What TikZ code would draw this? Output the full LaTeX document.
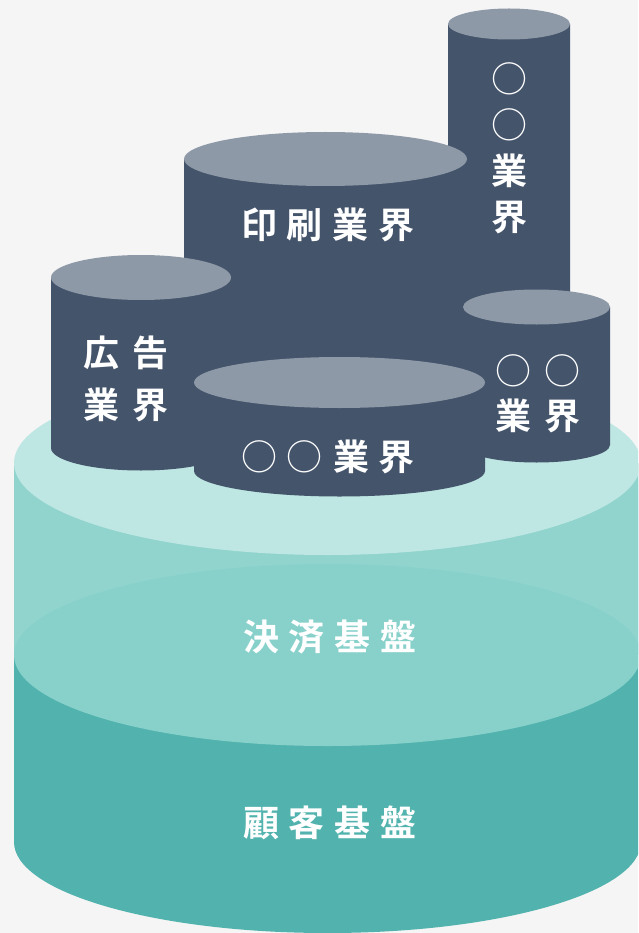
\documentclass[tikz,border=0pt]{standalone}
\usepackage{fontspec}
\newfontfamily\jp{Noto Sans CJK JP}[BoldFont={* Bold}]
\definecolor{bgc}{HTML}{F5F5F5}
\definecolor{tealA}{HTML}{BEE6E3}
\definecolor{tealB}{HTML}{91D4CE}
\definecolor{tealC}{HTML}{88D1CB}
\definecolor{tealD}{HTML}{52B3AE}
\definecolor{slateside}{HTML}{44546B}
\definecolor{slatetop}{HTML}{8E99A8}
\newcommand\drum[5]{% cx, top, bottom, rx, ry
  \fill[slateside] (#1-#4,#2) -- (#1-#4,#3)
    arc[start angle=180,end angle=360,x radius=#4pt,y radius=#5pt]
    -- (#1+#4,#2) -- cycle;
  \fill[slatetop] (#1,#2) ellipse[x radius=#4pt,y radius=#5pt];
}
\newcommand\gp{\kern10pt}
\newcommand\gq{\kern14pt}
\tikzset{lbl/.style={text=white,font=\jp\bfseries\fontsize{36}{46}\selectfont,inner sep=0pt,align=center}}
\begin{document}
\begin{tikzpicture}[x=1pt,y=-1pt]
\useasboundingbox (0,0) rectangle (638,933);
\clip (0,0) rectangle (638,933);
\fill[bgc] (0,0) rectangle (638,933);
% base cylinder
\fill[tealD] (14,463) -- (14,842)
  arc[start angle=180,end angle=360,x radius=313.5pt,y radius=91pt]
  -- (641,463) -- cycle;
\fill[tealB] (14,463) rectangle (641,655);
\fill[tealC] (327.5,655) ellipse[x radius=313.5pt,y radius=91pt];
\fill[tealA] (327.5,463) ellipse[x radius=313.5pt,y radius=92pt];
\node[lbl] (kessai) at (330,637) {決\gp 済\gp 基\gp 盤};
\node[lbl] (kokyaku) at (330,823) {顧\gp 客\gp 基\gp 盤};
% industry drums
\drum{509}{24}{400}{61}{15.5}
\drum{325.5}{159}{400}{141.5}{27}
\drum{536.5}{307}{445}{73.5}{17.5}
\drum{141}{277.5}{448}{90}{22.5}
\drum{339.5}{382.5}{471}{145.5}{25.5}
\node[lbl] (tall) at (509,148) {{\mdseries ○}\\{\mdseries ○}\\業\\界};
\node[lbl] (insatsu) at (328,225) {印\gp 刷\gp 業\gp 界};
\node[lbl,font=\jp\bfseries\fontsize{36}{45}\selectfont] (right) at (538,394) {{\mdseries ○\gq ○}\\業\gq 界};
\node[lbl,font=\jp\bfseries\fontsize{36}{52}\selectfont] (kokoku) at (126,379) {広\gq 告\\業\gq 界};
\node[lbl] (front) at (328,457) {{\mdseries ○\gp ○}\gp 業\gp 界};
\end{tikzpicture}
\end{document}
